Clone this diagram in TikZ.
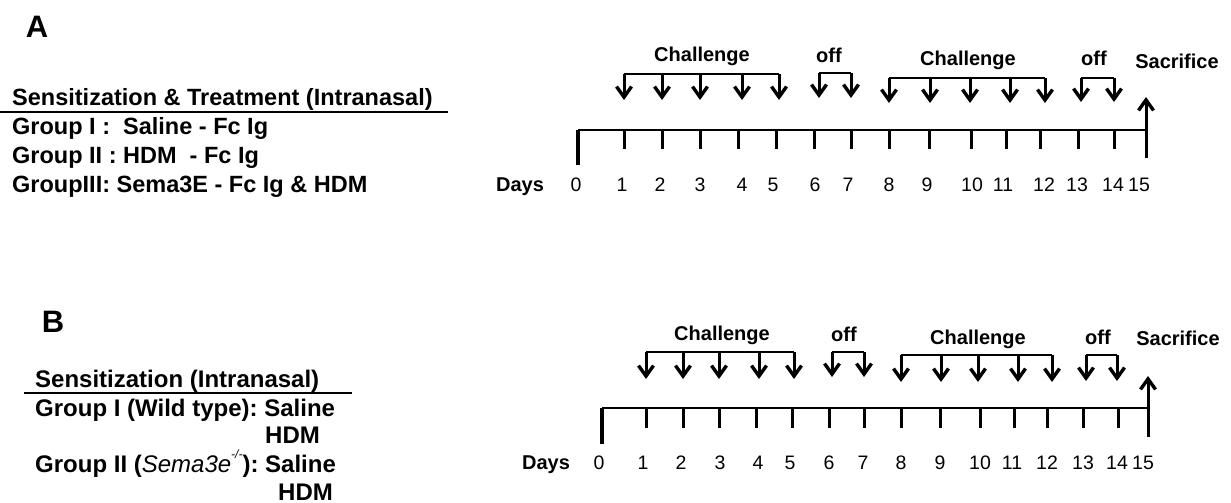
\documentclass[tikz,border=0pt]{standalone}
\usepackage{fontspec}
\setmainfont{Liberation Sans}
\usetikzlibrary{arrows.meta}
\begin{document}
\frenchspacing
\begin{tikzpicture}[x=1pt,y=-1pt,
  axis/.style={line width=2.6pt},
  zeroline/.style={line width=3.6pt},
  tickline/.style={line width=3pt},
  brk/.style={line width=2.4pt, line join=miter},
  dn/.style={line width=3pt, -{Straight Barb[length=10.5pt,width=15pt,line width=3.4pt]}},
  lbl/.style={inner sep=0pt, font=\fontsize{20}{24}\selectfont\bfseries, anchor=base},
  num/.style={inner sep=0pt, font=\fontsize{19.5}{24}\selectfont, anchor=base},
  lefttxt/.style={inner sep=0pt, anchor=base west, font=\fontsize{23.5}{28}\selectfont\bfseries},
  lefttxtB/.style={inner sep=0pt, anchor=base west, font=\fontsize{24}{28}\selectfont\bfseries},
  panel/.style={inner sep=0pt, font=\fontsize{31}{36}\selectfont\bfseries}]
\useasboundingbox (0,0) rectangle (1231,503);

% ---------------- Panel A ----------------
\node[panel] (pA) at (37,27) {A};
\node[lefttxt] (hA) at (12,105) {Sensitization \& Treatment (Intranasal)};
\coordinate (uA1) at (0,112); \coordinate (uA2) at (448,112);
\draw[line width=1.5pt] (uA1) -- (uA2);
\node[lefttxt] (gA1) at (12,134) {Group I :\ \ Saline - Fc Ig};
\node[lefttxt] (gA2) at (12,163) {Group II : HDM\ \ - Fc Ig};
\node[lefttxt] (gA3) at (12,192) {GroupIII: Sema3E - Fc Ig \& HDM};

% timeline A
\coordinate (A0top) at (578,130); \coordinate (A0bot) at (578,165);
\coordinate (A15top) at (1146,97); \coordinate (A15bot) at (1146,158);
\coordinate (A15ax) at (1146,130);
\draw[axis] (A0top) -- (A15ax);
\draw[zeroline] (A0top) -- (A0bot);
\draw[dn] (A15bot) -- (A15top);
\foreach \d/\x in {1/624,2/662,3/700,4/738,5/776,6/814,7/851,8/889,9/929,10/971,11/1006,12/1040,13/1078,14/1114}{
  \coordinate (At\d) at (\x,130); \coordinate (Ab\d) at (\x,149);
  \draw[tickline] (At\d) -- (Ab\d);
}
\node[lbl] (daysA) at (520,191) {Days};
\foreach \d/\x in {0/576,1/622,2/660,3/700,4/742,5/773,6/815,7/848,8/889,9/927,10/972,11/1003,12/1044,13/1077,14/1113,15/1139}{
  \node[num] (An\d) at (\x,191) {\d};
}
% arrow groups A
\coordinate (Ac1s) at (624,74); \coordinate (Ac1e) at (779,74);
\draw[brk] (Ac1s) -- (Ac1e);
\foreach \i/\x in {1/624,2/662,3/700,4/742,5/779}{
  \coordinate (Ac1a\i) at (\x,74); \coordinate (Ac1b\i) at (\x,100);
  \draw[dn] (Ac1a\i) -- (Ac1b\i);
}
\coordinate (Ao1s) at (819,73); \coordinate (Ao1e) at (851,73);
\draw[brk] (Ao1s) -- (Ao1e);
\foreach \i/\x in {1/819,2/851}{
  \coordinate (Ao1a\i) at (\x,73); \coordinate (Ao1b\i) at (\x,98);
  \draw[dn] (Ao1a\i) -- (Ao1b\i);
}
\coordinate (Ac2s) at (889,78); \coordinate (Ac2e) at (1045,78);
\draw[brk] (Ac2s) -- (Ac2e);
\foreach \i/\x in {1/889,2/930,3/970,4/1010,5/1045}{
  \coordinate (Ac2a\i) at (\x,78); \coordinate (Ac2b\i) at (\x,103);
  \draw[dn] (Ac2a\i) -- (Ac2b\i);
}
\coordinate (Ao2s) at (1081,78); \coordinate (Ao2e) at (1114,78);
\draw[brk] (Ao2s) -- (Ao2e);
\foreach \i/\x in {1/1081,2/1114}{
  \coordinate (Ao2a\i) at (\x,78); \coordinate (Ao2b\i) at (\x,102);
  \draw[dn] (Ao2a\i) -- (Ao2b\i);
}
\node[lbl] (Ach1) at (702,62) {Challenge};
\node[lbl] (Aoff1) at (829,63) {off};
\node[lbl] (Ach2) at (968,66) {Challenge};
\node[lbl] (Aoff2) at (1094,66) {off};
\node[lbl] (Asac) at (1177,68) {Sacrifice};

% ---------------- Panel B ----------------
\node[panel] (pB) at (53,322) {B};
\node[lefttxtB] (hB) at (35,387) {Sensitization (Intranasal)};
\coordinate (uB1) at (24,393); \coordinate (uB2) at (352,393);
\draw[line width=1.5pt] (uB1) -- (uB2);
\node[lefttxtB] (gB1) at (35,416) {Group I (Wild type): Saline};
\node[lefttxtB] (gB1h) at (265,443) {HDM};
\node[lefttxtB] (gB2) at (35,472) {Group II ({\fontseries{m}\itshape Sema3e\raisebox{0.55em}{\fontsize{12}{14}\selectfont -/-}}): Saline};
\node[lefttxtB] (gB2h) at (278,500) {HDM};

% timeline B
\coordinate (B0top) at (602,408); \coordinate (B0bot) at (602,444);
\coordinate (B15top) at (1148,376); \coordinate (B15bot) at (1148,437);
\coordinate (B15ax) at (1148,408);
\draw[axis] (B0top) -- (B15ax);
\draw[zeroline] (B0top) -- (B0bot);
\draw[dn] (B15bot) -- (B15top);
\foreach \d/\x in {1/646,2/683,3/719,4/756,5/792,6/829,7/864,8/901,9/940,10/980,11/1014,12/1047,13/1083,14/1118}{
  \coordinate (Bt\d) at (\x,408); \coordinate (Bb\d) at (\x,428);
  \draw[tickline] (Bt\d) -- (Bb\d);
}
\node[lbl] (daysB) at (546,469) {Days};
\foreach \d/\x in {0/599,1/643,2/681,3/720,4/758,5/790,6/829,7/863,8/901,9/940,10/980,11/1012,12/1047,13/1083,14/1117,15/1143}{
  \node[num] (Bn\d) at (\x,469) {\d};
}
% arrow groups B
\coordinate (Bc1s) at (646,352); \coordinate (Bc1e) at (794,352);
\draw[brk] (Bc1s) -- (Bc1e);
\foreach \i/\x in {1/646,2/683,3/719,4/759,5/794}{
  \coordinate (Bc1a\i) at (\x,352); \coordinate (Bc1b\i) at (\x,379);
  \draw[dn] (Bc1a\i) -- (Bc1b\i);
}
\coordinate (Bo1s) at (832,352); \coordinate (Bo1e) at (864,352);
\draw[brk] (Bo1s) -- (Bo1e);
\foreach \i/\x in {1/832,2/864}{
  \coordinate (Bo1a\i) at (\x,352); \coordinate (Bo1b\i) at (\x,377);
  \draw[dn] (Bo1a\i) -- (Bo1b\i);
}
\coordinate (Bc2s) at (901,355); \coordinate (Bc2e) at (1052,355);
\draw[brk] (Bc2s) -- (Bc2e);
\foreach \i/\x in {1/901,2/941,3/978,4/1018,5/1052}{
  \coordinate (Bc2a\i) at (\x,355); \coordinate (Bc2b\i) at (\x,382);
  \draw[dn] (Bc2a\i) -- (Bc2b\i);
}
\coordinate (Bo2s) at (1086,355); \coordinate (Bo2e) at (1117,355);
\draw[brk] (Bo2s) -- (Bo2e);
\foreach \i/\x in {1/1086,2/1117}{
  \coordinate (Bo2a\i) at (\x,355); \coordinate (Bo2b\i) at (\x,381);
  \draw[dn] (Bo2a\i) -- (Bo2b\i);
}
\node[lbl] (Bch1) at (722,340) {Challenge};
\node[lbl] (Boff1) at (844,341) {off};
\node[lbl] (Bch2) at (978,344) {Challenge};
\node[lbl] (Boff2) at (1098,344) {off};
\node[lbl] (Bsac) at (1178,345) {Sacrifice};
\end{tikzpicture}
\end{document}
